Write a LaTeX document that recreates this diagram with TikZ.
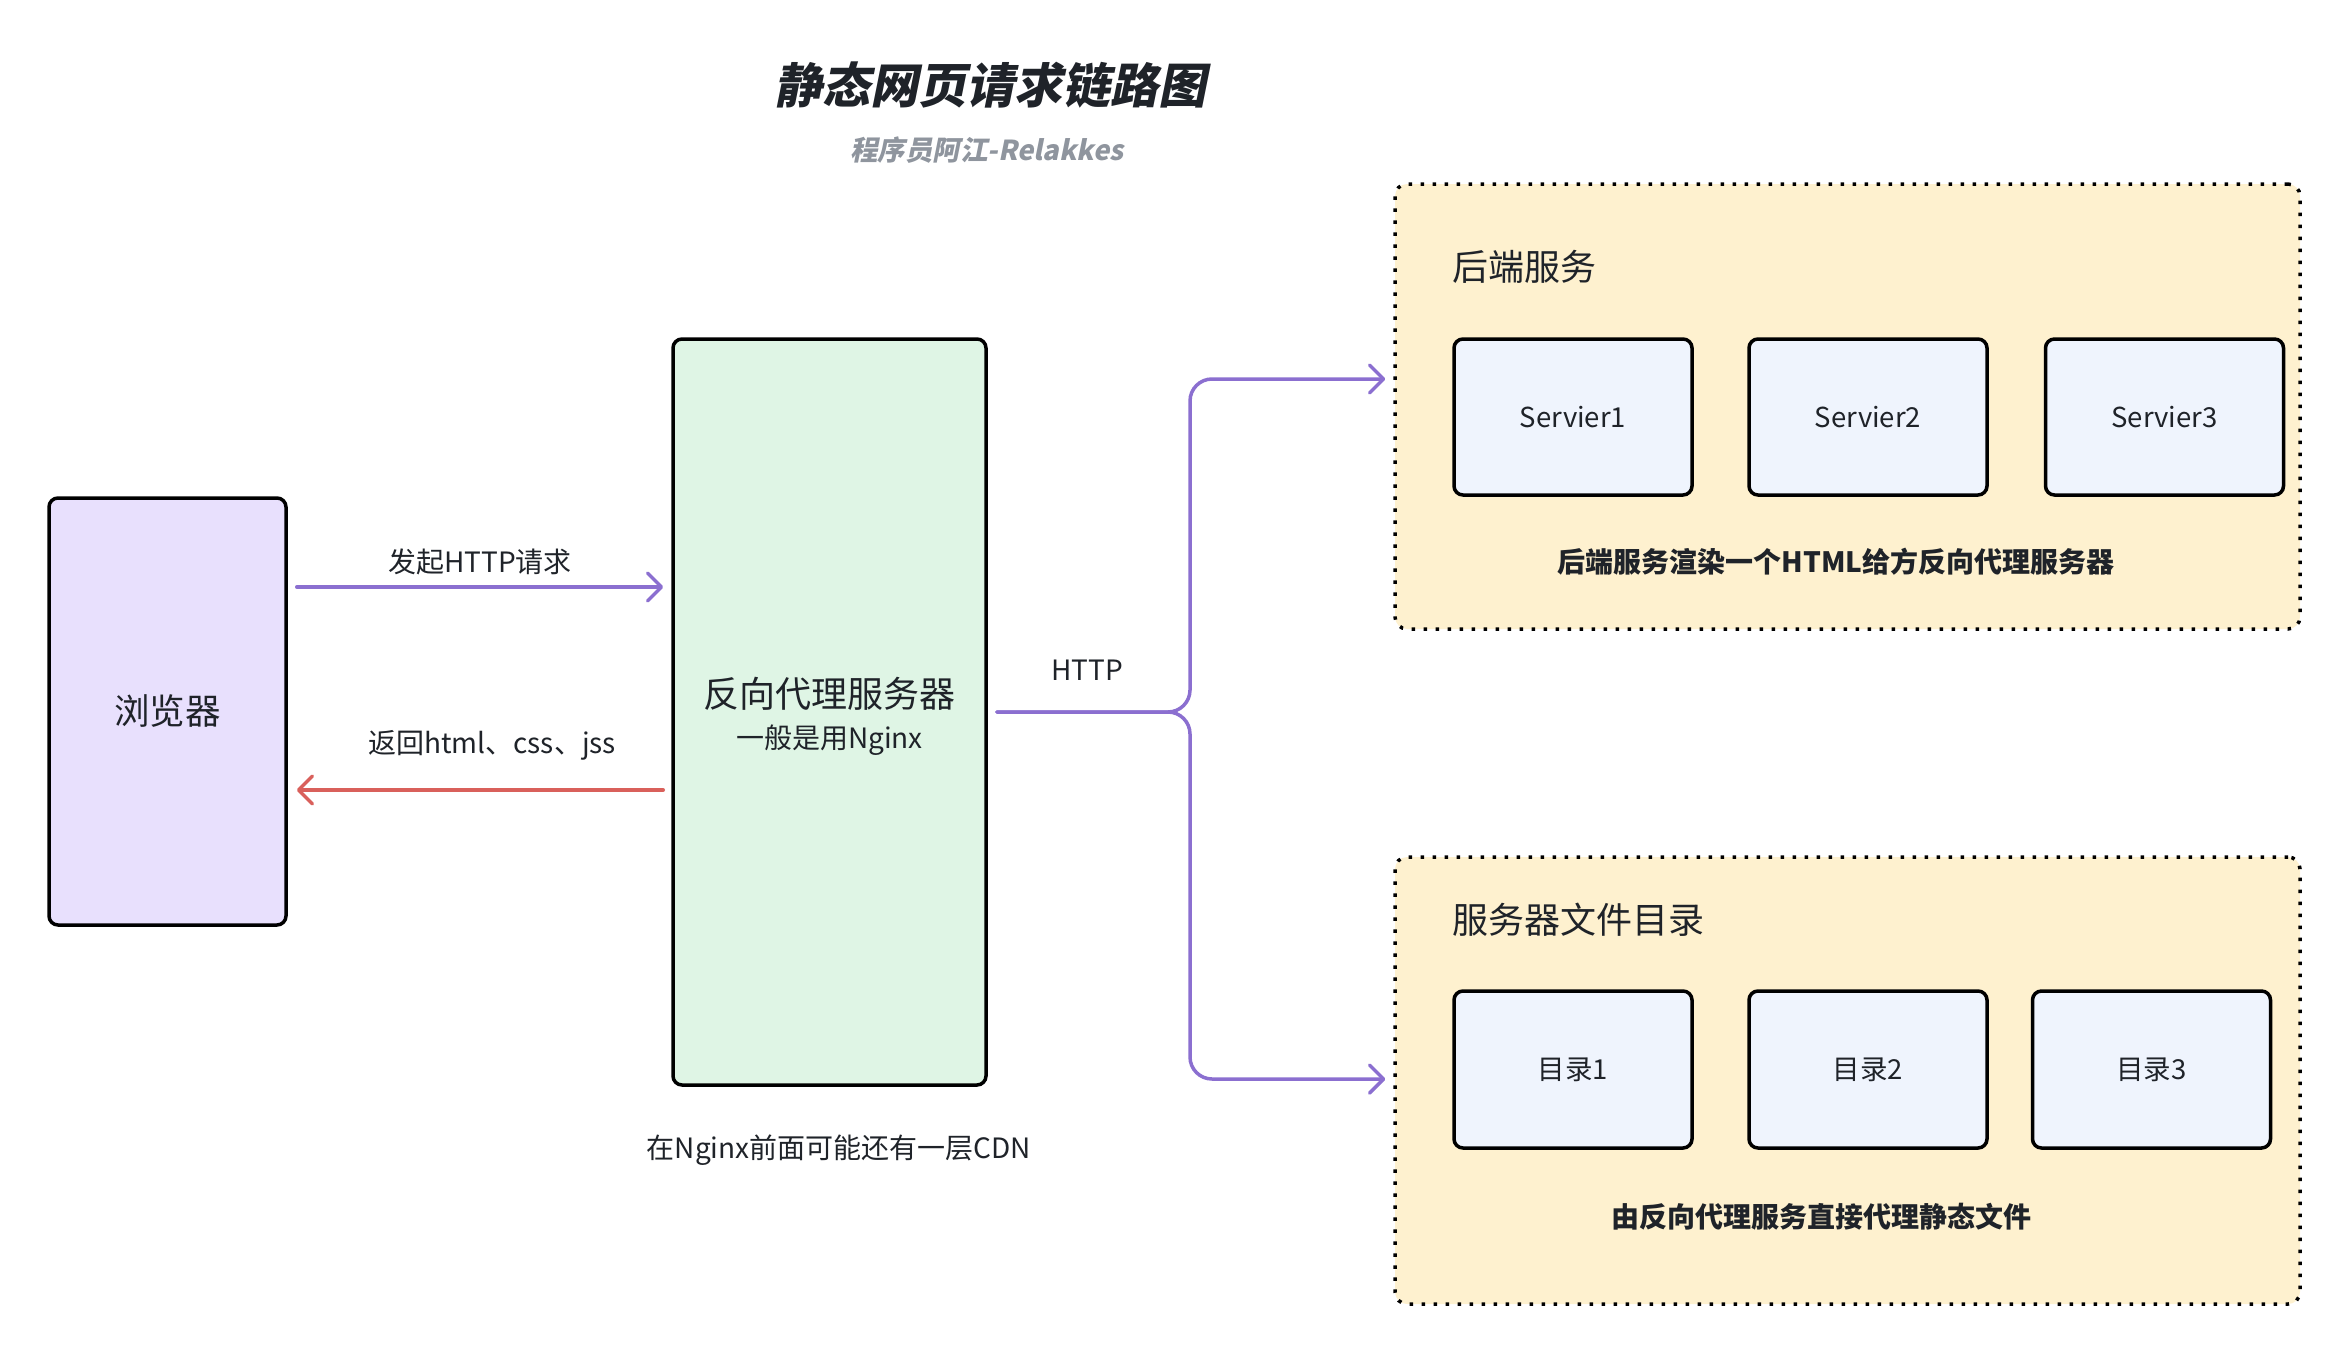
\documentclass[tikz,border=0pt]{standalone}
\usepackage{fontspec}
\setmainfont{Noto Sans CJK SC}
\newfontfamily\titlefont[FakeSlant=0.2]{Noto Sans CJK SC}
\usetikzlibrary{arrows.meta}
\definecolor{txt}{HTML}{1F2329}
\definecolor{subgray}{HTML}{8F959E}
\definecolor{browserfill}{HTML}{E8E0FD}
\definecolor{proxyfill}{HTML}{DFF5E5}
\definecolor{grpfill}{HTML}{FEF1CF}
\definecolor{innerfill}{HTML}{EFF4FD}
\definecolor{flowpurple}{HTML}{8B6FD0}
\definecolor{flowred}{HTML}{D9605B}
\newcommand\fsz[1]{\fontsize{#1}{#1}\selectfont}
\begin{document}
\begin{tikzpicture}[x=1pt,y=-1pt,
  every node/.style={text=txt},
  box/.style={draw=black, line width=3.5pt, rounded corners=9pt, inner sep=0pt},
  group/.style={draw=black, line width=3.5pt, dash pattern=on 3.5pt off 8.5pt, fill=grpfill, rounded corners=12pt, inner sep=0pt},
  inner/.style={box, fill=innerfill, minimum width=238pt, minimum height=156pt, font=\fsz{27.5}},
  lbl/.style={font=\fsz{28}, inner sep=0pt},
  flow/.style={draw=flowpurple, line width=3.5pt, line cap=round, -{Straight Barb[length=14pt,width=28pt,line width=3.5pt,round]}},
  back/.style={flow, draw=flowred}
]
\useasboundingbox (0,0) rectangle (2350,1354);

% title
\node[inner sep=0pt, font=\titlefont\bfseries\fsz{48}] (title) at (990,85) {静态网页请求链路图};
\node[inner sep=0pt, font=\titlefont\bfseries\fsz{27.5}, text=subgray] (subtitle) at (987,150) {程序员阿江-Relakkes};

% browser and proxy
\node[box, fill=browserfill, minimum width=237pt, minimum height=427pt, font=\fsz{35.5}] (browser) at (167.5,711.5) {浏览器};
\node[box, fill=proxyfill, minimum width=313pt, minimum height=746pt] (proxy) at (829.5,712) {};
\node[lbl, font=\fsz{36}] (proxyname) at (829.5,694) {反向代理服务器};
\node[lbl] (proxysub) at (829.5,740) {一般是用Nginx};
\node[lbl] (cdn) at (839,1150) {在Nginx前面可能还有一层CDN};

% groups
\node[group, minimum width=905pt, minimum height=445pt] (backend) at (1847.5,406.5) {};
\node[group, minimum width=905pt, minimum height=447pt] (files) at (1847.5,1080.5) {};
\node[lbl, font=\fsz{36}, anchor=west] (backendtitle) at (1452,267) {后端服务};
\node[lbl, font=\fsz{36}, anchor=west] (filestitle) at (1452,920) {服务器文件目录};

\node[inner] (s1) at (1573,417) {Servier1};
\node[inner] (s2) at (1868,417) {Servier2};
\node[inner] (s3) at (2164.5,417) {Servier3};
\node[inner, minimum height=157pt] (d1) at (1573,1069.5) {目录1};
\node[inner, minimum height=157pt] (d2) at (1868,1069.5) {目录2};
\node[inner, minimum height=157pt] (d3) at (2151.5,1069.5) {目录3};

\node[lbl, font=\bfseries\fsz{28}] (backendcap) at (1836,562) {后端服务渲染一个HTML给方反向代理服务器};
\node[lbl, font=\bfseries\fsz{28}] (filescap) at (1821,1217) {由反向代理服务直接代理静态文件};

% browser <-> proxy
\coordinate (b1) at ([xshift=9pt]browser.east |- 0,587);
\coordinate (p1) at ([xshift=-8pt]proxy.west |- 0,587);
\coordinate (b2) at ([xshift=9pt]browser.east |- 0,790);
\coordinate (p2) at ([xshift=-8pt]proxy.west |- 0,790);
\draw[flow] (b1) -- (p1);
\draw[back] (p2) -- (b2);
\node[lbl] (reqlbl) at (480,562) {发起HTTP请求};
\node[lbl] (resplbl) at (492,745) {返回html、css、jss};

% proxy -> groups
\coordinate (pstart) at ([xshift=9pt]proxy.east);
\coordinate (split) at (1190,712);
\coordinate (tbend) at (1190,379);
\coordinate (bbend) at (1190,1079);
\coordinate (tend) at ([xshift=-8pt]backend.west |- 0,379);
\coordinate (bend) at ([xshift=-8pt]files.west |- 0,1079);
\draw[flow, rounded corners=22pt] (pstart) -- (split) -- (tbend) -- (tend);
\draw[flow, rounded corners=22pt] (pstart) -- (split) -- (bbend) -- (bend);
\node[lbl] (httplbl) at (1087,670) {HTTP};
\end{tikzpicture}
\end{document}
